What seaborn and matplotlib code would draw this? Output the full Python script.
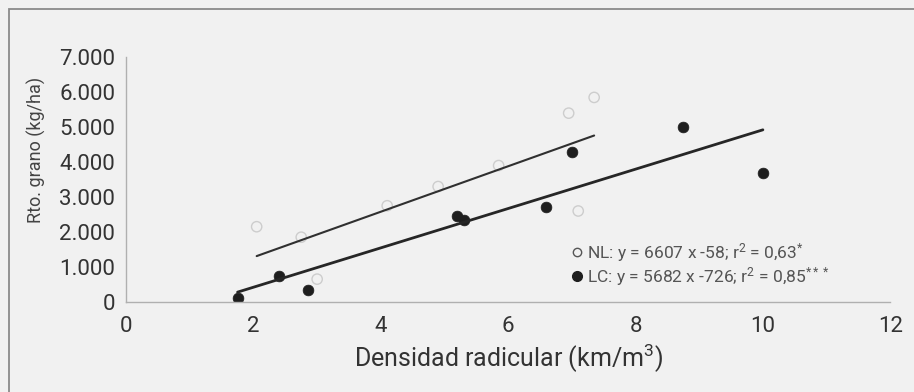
import numpy as np
import pandas as pd
import seaborn as sns
import matplotlib.pyplot as plt
from matplotlib.ticker import FuncFormatter
from matplotlib.lines import Line2D
from matplotlib.patches import Rectangle

# NL (open circles)
nl_x = [2.05, 2.75, 3.0, 4.1, 4.9, 5.85, 6.95, 7.35, 7.1]
nl_y = [2150, 1850, 650, 2750, 3300, 3900, 5400, 5850, 2600]
# LC (filled circles)
lc_x = [1.75, 2.4, 2.85, 5.2, 5.3, 6.6, 7.0, 8.75, 10.0]
lc_y = [100, 750, 350, 2450, 2350, 2700, 4300, 5000, 3700]

nl_label = "NL: y = 6607 x -58; r$^2$ = 0,63$^{*}$"
lc_label = "LC: y = 5682 x -726; r$^2$ = 0,85$^{***}$"

x_ticks = [0, 2, 4, 6, 8, 10, 12]
y_ticks = [0, 1000, 2000, 3000, 4000, 5000, 6000, 7000]

nl = pd.DataFrame({"x": nl_x, "y": nl_y})
lc = pd.DataFrame({"x": lc_x, "y": lc_y})

sns.set_style("white")
plt.rcParams['font.family'] = ['Roboto', 'DejaVu Sans']
plt.rcParams['mathtext.fontset'] = 'custom'
plt.rcParams['mathtext.rm'] = 'Roboto'
plt.rcParams['mathtext.it'] = 'Roboto'
bg = "#f1f1f1"

fig = plt.figure(figsize=(9.14, 3.92), dpi=100, facecolor=bg)
ax = fig.add_axes([0.138, 0.230, 0.836, 0.624])
ax.set_facecolor(bg)

# frame around the whole figure
fig.patches.append(Rectangle((0.010, -0.01), 1.0, 0.987, transform=fig.transFigure,
                             fill=False, edgecolor="#8a8a8a", linewidth=1.3))

sns.regplot(data=nl, x="x", y="y", ax=ax, ci=None, truncate=True,
            scatter_kws=dict(s=55, facecolor="none", edgecolor="#c4c4c4", linewidths=1.0),
            line_kws=dict(color="#303030", linewidth=1.5))
sns.regplot(data=lc, x="x", y="y", ax=ax, ci=None, truncate=True,
            scatter_kws=dict(s=60, color="#1e1e1e", edgecolor="#1e1e1e", linewidths=0.5, alpha=1),
            line_kws=dict(color="#262626", linewidth=2.0))

ax.set_xlim(0, 12)
ax.set_ylim(0, 7000)
ax.set_xticks(x_ticks)
ax.set_yticks(y_ticks)
ax.yaxis.set_major_formatter(FuncFormatter(lambda v, p: f"{v:,.0f}".replace(",", ".")))

for s in ["top", "right"]:
    ax.spines[s].set_visible(False)
for s in ["left", "bottom"]:
    ax.spines[s].set_color("#b0b0b0")
    ax.spines[s].set_linewidth(1.0)

ax.tick_params(axis="y", length=0, pad=8, labelsize=16, labelcolor="#333333")
ax.tick_params(axis="x", length=2, color="#cccccc", pad=8, labelsize=16, labelcolor="#333333")

ax.set_xlabel("Densidad radicular (km/m$^3$)", fontsize=18, color="#333333", labelpad=4)
ax.set_ylabel("Rto. grano (kg/ha)", fontsize=13, color="#444444")
ax.yaxis.set_label_coords(-0.105, 0.62)

handles = [
    Line2D([], [], linestyle="none", marker="o", markersize=6, markerfacecolor="none",
           markeredgecolor="#555555", markeredgewidth=1.0),
    Line2D([], [], linestyle="none", marker="o", markersize=7, markerfacecolor="#1e1e1e",
           markeredgecolor="#1e1e1e"),
]
ax.legend(handles, [nl_label, lc_label], loc="lower left", bbox_to_anchor=(0.585, 0.058),
          frameon=False, fontsize=12.5, labelcolor="#555555", handlelength=0.5,
          handletextpad=0.3, borderaxespad=0, borderpad=0, labelspacing=0.05)

fig.savefig("out.png", dpi=100, facecolor=bg)
